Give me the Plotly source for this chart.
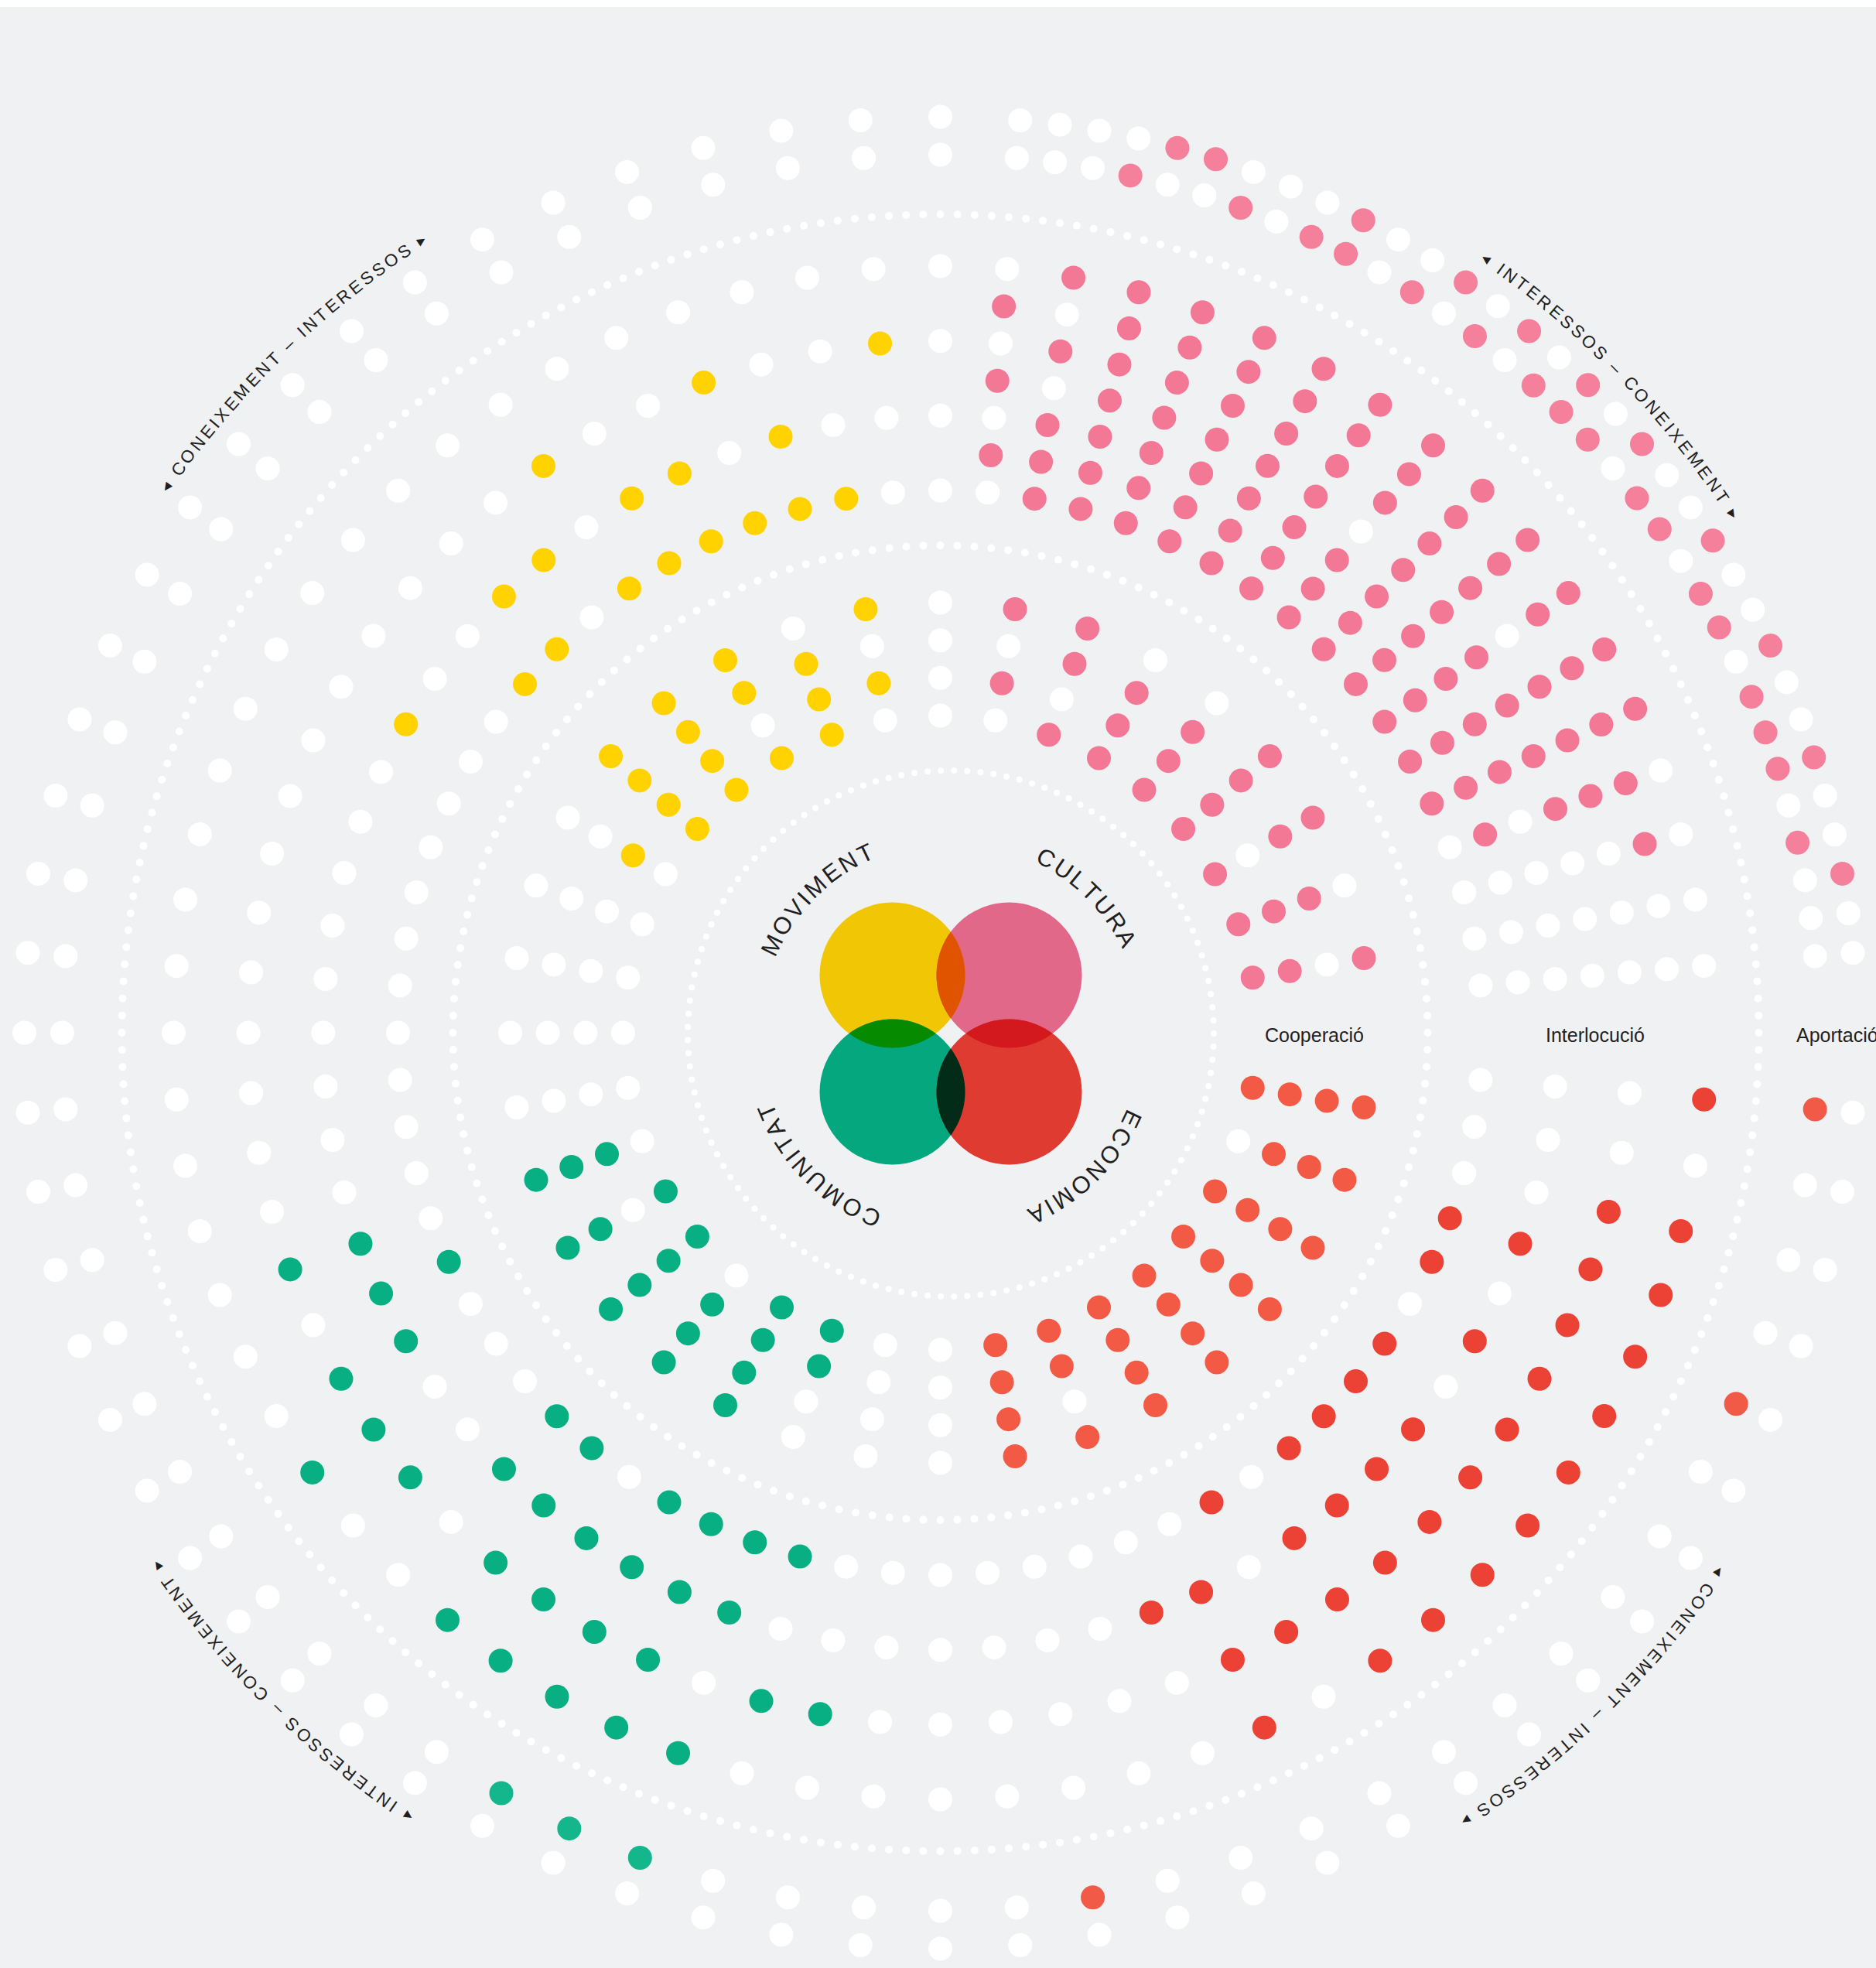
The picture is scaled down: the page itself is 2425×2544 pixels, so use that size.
import numpy as np
import plotly.graph_objects as go

# ------------------------------------------------------------------
# DATA  (one string per spoke, characters = rings from inner to outer,
#        "1" = dot belongs to the quadrant's category, "0" = white dot)
# Quadrants go clockwise from east: Economia, Comunitat, Moviment, Cultura
# ------------------------------------------------------------------
quadrant_names = ["ECONOMIA", "COMUNITAT", "MOVIMENT", "CULTURA"]
band_labels = ["Cooperació", "Interlocució", "Aportació"]
corner_labels = ["CONEIXEMENT – INTERESSOS", "INTERESSOS – CONEIXEMENT",
                 "INTERESSOS – CONEIXEMENT", "CONEIXEMENT – INTERESSOS"]

# Cooperació (8 spokes per quadrant, 4 rings)
coop_economia = ["1111", "0111", "1111", "1111", "1111", "1111", "1101", "1111"]
coop_comunitat = ["0000", "1100", "1111", "0111", "1111", "1011", "0111", "0000"]
coop_moviment = ["0000", "0000", "0100", "1111", "1111", "1011", "1110", "0101"]
coop_cultura = ["0101", "1011", "1110", "1110", "1111", "1011", "1110", "1101"]

# Interlocució (17 spokes per quadrant, 4 rings; Cultura 7 rings)
int_economia = ["0001", "0000", "0011", "1111", "1011", "0111", "1011", "1111", "1111",
                "1111", "0111", "1010", "0111", "0100", "0000", "0000", "0000"]
int_comunitat = ["0000", "0010", "1010", "1101", "1111", "1111", "0111", "1111", "1100",
                 "0010", "0011", "0110", "1100", "0110", "0000", "0000", "0000"]
int_moviment = ["0000", "0000", "0000", "0000", "0000", "0100", "0000", "1000", "1100",
                "0100", "1010", "1100", "1100", "1010", "1100", "1000", "0010"]
int_cultura = ["0101010", "1110101", "1111111", "1111111", "1111111", "1111111",
               "1111111", "1110111", "1111111", "1111111", "1111011", "1111111",
               "1111111", "0101110", "0000010", "0000000", "0000000"]

# Aportació (17 spokes per quadrant, 2 rings; Cultura 33 spokes)
apo_economia = ["10", "00", "00", "00", "10", "00", "00", "00", "00",
                "00", "00", "00", "00", "00", "00", "10", "00"]
apo_comunitat = ["00", "00", "00", "10", "10", "10", "00", "00", "00",
                 "00", "00", "00", "00", "00", "00", "00", "00"]
apo_moviment = ["00"] * 17
apo_cultura = ["00", "00", "00", "10", "01", "01", "10", "00", "10", "11", "00",
               "10", "01", "10", "01", "10", "11", "10", "01", "10", "10", "01",
               "10", "10", "01", "10", "10", "11", "00", "10", "01", "00", "00"]

# neutral spokes on the south, west and north axes
axis_spokes_deg = [90, 180, 270]

# ------------------------------------------------------------------
# LAYOUT / STYLE
# ------------------------------------------------------------------
W, H = 2425, 2544
CX, CY = 1215.5, 1335.0          # pixel centre of the dot rings
VX, VY = 1229.0, 1336.0          # pixel centre of the Venn logo
R_PX = 1205.0
BG = "#F0F1F3"
WHITE = "#FFFFFF"
FONT = "Liberation Sans, Arial, sans-serif"
TXT = "#1F1F1F"

Q_START = [0, 90, 180, 270]
COOP_COL = ["#F25A46", "#07AF82", "#FFD200", "#F27896"]
INT_COL = ["#EC4135", "#07AF82", "#FFD200", "#F27896"]
APO_COL = ["#F15A47", "#14B68C", "#FFD200", "#F4809B"]

COOP_R = (410, 556)
INT_R = (701, 991)
APO_R = (1135, 1184)
DOT = 31


def band(start, patterns, a0, rlim):
    n = len(patterns)
    angs = np.linspace(a0, 90 - a0, n)
    th, rr, cc = [], [], []
    for a, pat in zip(angs, patterns):
        radii = np.linspace(rlim[0], rlim[1], len(pat))
        for k, ch in enumerate(pat):
            th.append(start + a)
            rr.append(radii[k])
            cc.append(ch)
    return th, rr, cc


fig = go.Figure()

bands = [
    ([coop_economia, coop_comunitat, coop_moviment, coop_cultura], 10, COOP_R, COOP_COL),
    ([int_economia, int_comunitat, int_moviment, int_cultura], 5, INT_R, INT_COL),
    ([apo_economia, apo_comunitat, apo_moviment, apo_cultura], 5, APO_R, APO_COL),
]
for lists, a0, rlim, cols in bands:
    for q, pats in enumerate(lists):
        th, rr, cc = band(Q_START[q], pats, a0, rlim)
        colors = [cols[q] if c == "1" else WHITE for c in cc]
        fig.add_trace(go.Scatterpolar(r=rr, theta=th, mode="markers",
                                      marker=dict(size=DOT, color=colors, line=dict(width=0)),
                                      hoverinfo="skip", showlegend=False))

# neutral axis spokes
ath, ar = [], []
for a in axis_spokes_deg:
    for rlim, n in [(COOP_R, 4), (INT_R, 4), (APO_R, 2)]:
        for rv in np.linspace(rlim[0], rlim[1], n):
            ath.append(a)
            ar.append(rv)
fig.add_trace(go.Scatterpolar(r=ar, theta=ath, mode="markers",
                              marker=dict(size=DOT, color=WHITE, line=dict(width=0)),
                              hoverinfo="skip", showlegend=False))

# dotted separator rings
for rad, n, sz in [(630, 180, 10), (1058, 300, 10)]:
    t = np.arange(n) * 360.0 / n
    fig.add_trace(go.Scatterpolar(r=[rad] * n, theta=t, mode="markers",
                                  marker=dict(size=sz, color=WHITE, line=dict(width=0)),
                                  hoverinfo="skip", showlegend=False))
# inner ring is centred on the logo
t = np.radians(np.arange(125) * 360.0 / 125)
px = VX - CX + 340 * np.cos(t)
py = VY - CY + 340 * np.sin(t)
fig.add_trace(go.Scatterpolar(r=np.hypot(px, py), theta=np.degrees(np.arctan2(py, px)),
                              mode="markers", marker=dict(size=8, color=WHITE, line=dict(width=0)),
                              hoverinfo="skip", showlegend=False))


def P(x, y):
    return x / W, 1 - y / H


# ---------------- Venn logo ----------------
VR = 94.0
OFF = 75.5
vc = {"Y": (VX - OFF, VY - OFF), "P": (VX + OFF, VY - OFF),
      "G": (VX - OFF, VY + OFF), "R": (VX + OFF, VY + OFF)}
vcol = {"Y": "#F0C605", "P": "#E2688A", "G": "#05A77E", "R": "#DF3B31"}
shapes = [dict(type="rect", xref="paper", yref="paper", x0=0, x1=1, y0=1 - 9 / H, y1=1,
               fillcolor=WHITE, line=dict(width=0))]
for k in "YPGR":
    x, y = vc[k]
    x0, y1 = P(x - VR, y - VR)
    x1, y0 = P(x + VR, y + VR)
    shapes.append(dict(type="circle", xref="paper", yref="paper", x0=x0, x1=x1, y0=y0, y1=y1,
                       fillcolor=vcol[k], line=dict(width=0)))


def lens(a, b, col):
    (x1, y1), (x2, y2) = vc[a], vc[b]
    d = np.hypot(x2 - x1, y2 - y1)
    al = np.arccos(d / (2 * VR))
    p12 = np.arctan2(y2 - y1, x2 - x1)
    t1 = np.linspace(p12 - al, p12 + al, 40)
    t2 = np.linspace(p12 + np.pi - al, p12 + np.pi + al, 40)
    pts = [(x1 + VR * np.cos(t), y1 + VR * np.sin(t)) for t in t1]
    pts += [(x2 + VR * np.cos(t), y2 + VR * np.sin(t)) for t in t2]
    path = "M " + " L ".join("%.5f,%.5f" % P(x, y) for x, y in pts) + " Z"
    return dict(type="path", xref="paper", yref="paper", path=path,
                fillcolor=col, line=dict(width=0))


shapes += [lens("Y", "P", "#E05400"), lens("Y", "G", "#058A00"),
           lens("P", "R", "#D3191E"), lens("G", "R", "#022B18")]

# ---------------- curved text ----------------
ARIAL = {"A": .667, "C": .722, "E": .667, "I": .278, "L": .556, "M": .833, "N": .722,
         "O": .778, "R": .722, "S": .667, "T": .611, "U": .722, "V": .667, "X": .667,
         " ": .278, "–": .556, "◀": .5, "▶": .5}


def arc_text(text, R, theta_c, cx, cy, size, track):
    ws = [ARIAL.get(ch, .6) * size for ch in text]
    pos = []
    s = 0.0
    for i, w in enumerate(ws):
        s = w / 2 if i == 0 else s + ws[i - 1] / 2 + track + w / 2
        pos.append(s)
    L = pos[-1] + ws[-1] / 2
    out = []
    for ch, p in zip(text, pos):
        if ch == " ":
            continue
        th = theta_c + np.degrees((p - L / 2) / R)
        x = cx + R * np.cos(np.radians(th))
        y = cy + R * np.sin(np.radians(th))
        ang = (th + 90 + 180) % 360 - 180
        fs = size * 0.6 if ch in "◀▶" else size
        fam = "DejaVu Sans" if ch in "◀▶" else FONT
        xp, yp = P(x, y)
        out.append(dict(x=xp, y=yp, xref="paper", yref="paper", text=ch, showarrow=False,
                        textangle=ang, xanchor="center", yanchor="middle",
                        font=dict(family=fam, size=fs, color=TXT)))
    return out


annotations = []
venn_angles = [45, 135, 225, 315]
for name, ang in zip(quadrant_names, venn_angles):
    annotations += arc_text(name, 258, ang, VX, VY, 31, 4)

corner_angles = [226, 316, 135, 45.5]
for lab, ang in zip(corner_labels, corner_angles):
    annotations += arc_text("◀ " + lab + " ▶", 1225, ang, CX, CY, 22.5, 3.8)

for lab, (r0, r1) in zip(band_labels, [COOP_R, INT_R, APO_R]):
    xp, yp = P(CX + (r0 + r1) / 2, CY + 3)
    annotations.append(dict(x=xp, y=yp, xref="paper", yref="paper", text=lab, showarrow=False,
                            xanchor="center", yanchor="middle",
                            font=dict(family=FONT, size=25, color=TXT)))

fig.update_layout(
    width=W, height=H, margin=dict(l=0, r=0, t=0, b=0),
    paper_bgcolor=BG, plot_bgcolor=BG, showlegend=False,
    polar=dict(
        domain=dict(x=[(CX - R_PX) / W, (CX + R_PX) / W],
                    y=[(H - CY - R_PX) / H, (H - CY + R_PX) / H]),
        bgcolor="rgba(0,0,0,0)",
        radialaxis=dict(range=[0, R_PX], visible=False, showgrid=False),
        angularaxis=dict(rotation=0, direction="clockwise", visible=False, showgrid=False),
    ),
    shapes=shapes,
    annotations=annotations,
)

fig.write_html("out.html", config={"displayModeBar": False},
               post_script="document.body.style.margin='0';document.body.style.overflow='hidden';")
